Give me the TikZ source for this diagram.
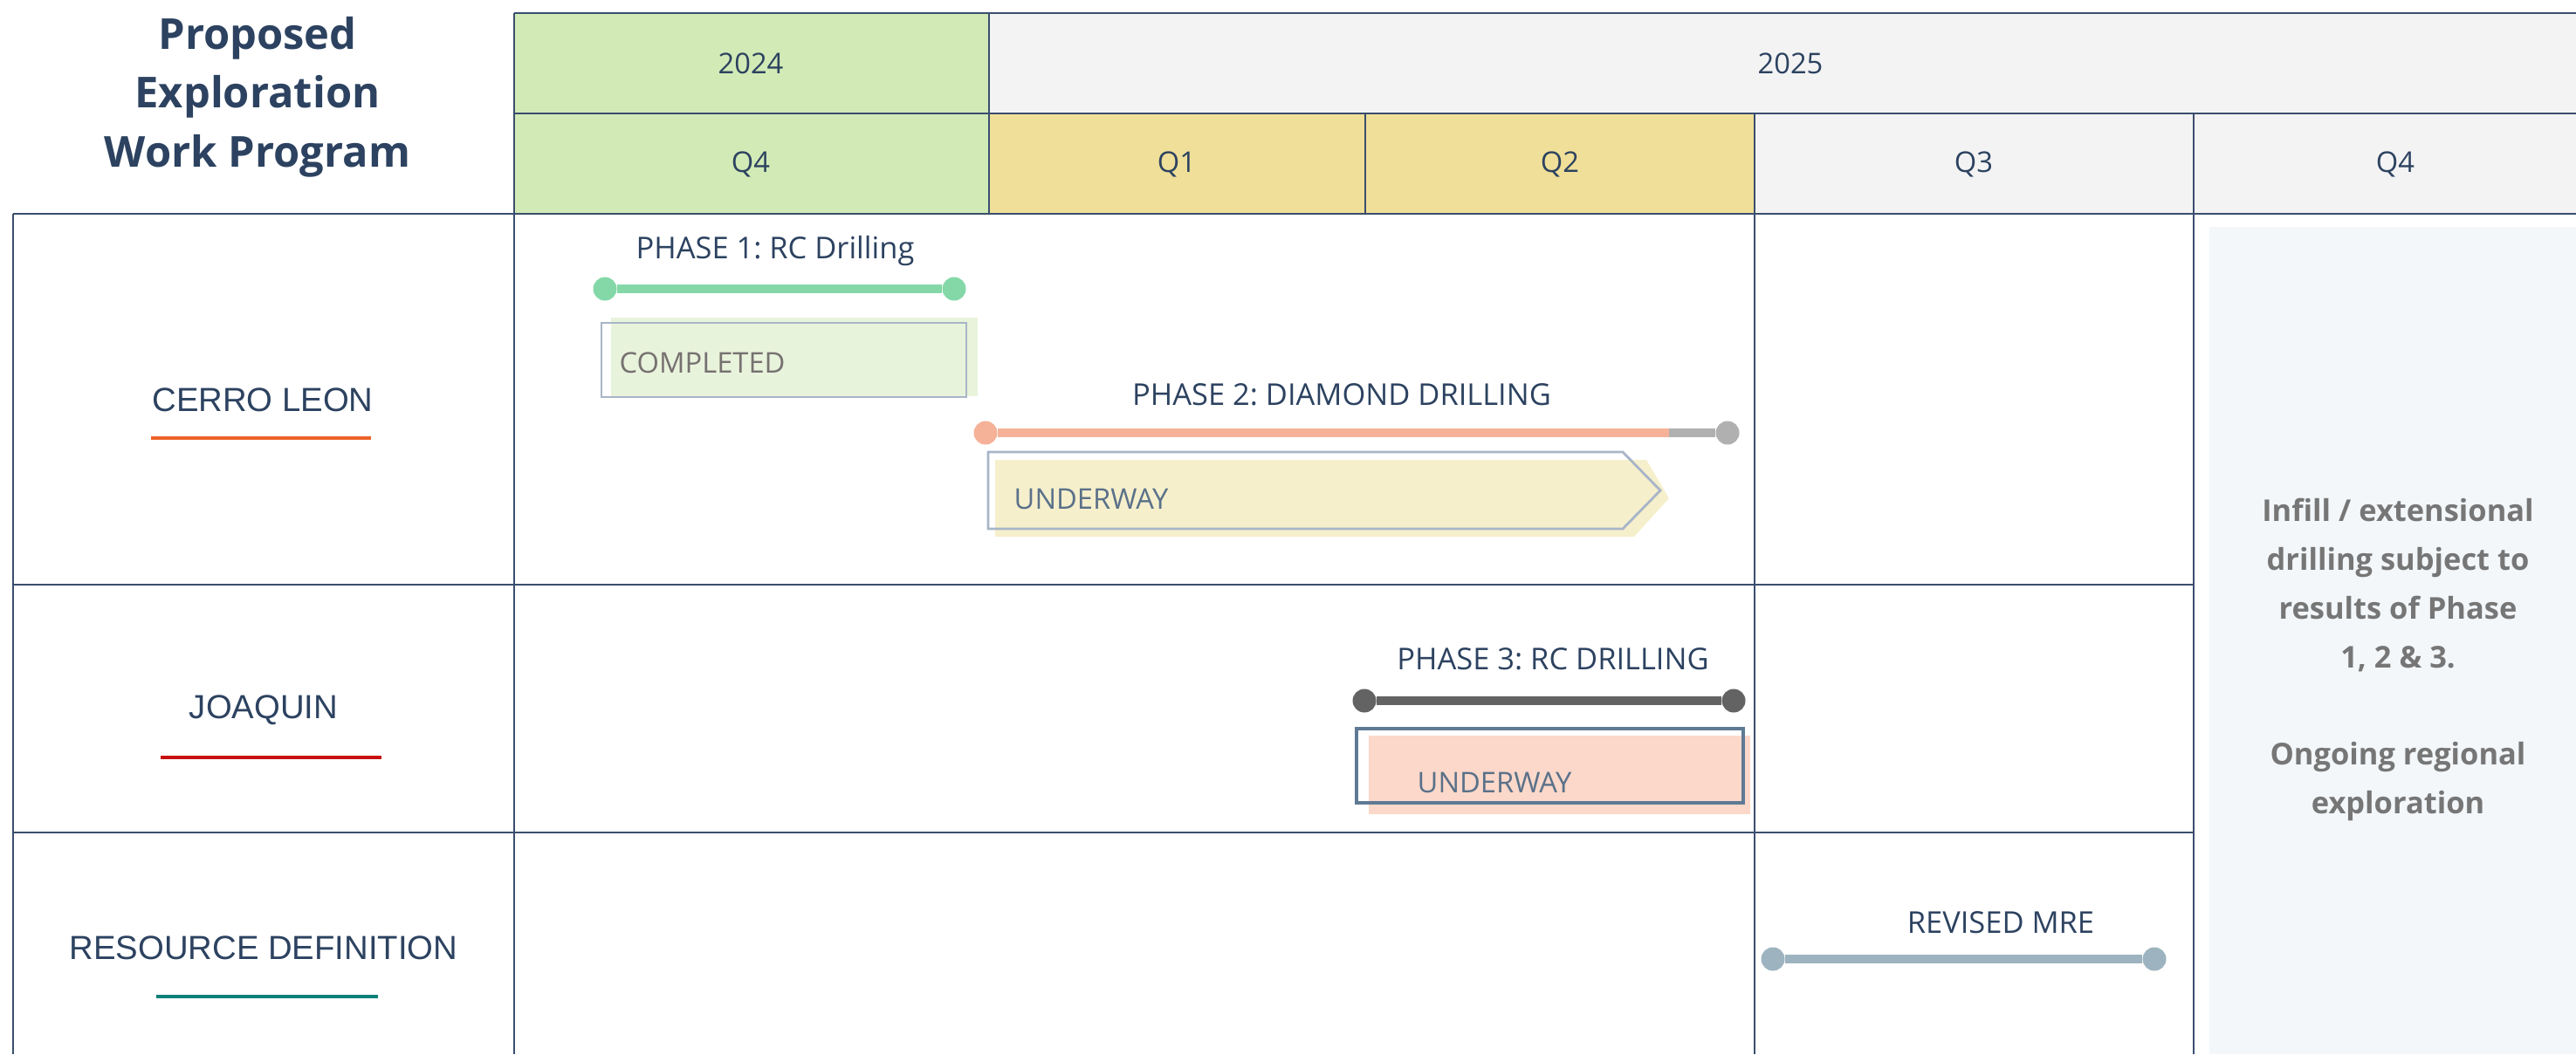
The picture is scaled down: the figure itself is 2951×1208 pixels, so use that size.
\documentclass[tikz,border=0pt]{standalone}
\usepackage{fontspec}
\setmainfont{Open Sans}
\newfontfamily\arialike{Liberation Sans}
\usetikzlibrary{positioning}
\frenchspacing

\definecolor{navy1}{RGB}{44, 66, 96}
\definecolor{gridnavy}{RGB}{58, 78, 110}
\definecolor{hdrgreen}{RGB}{210, 234, 182}
\definecolor{hdryellow}{RGB}{240, 223, 152}
\definecolor{hdrgray}{RGB}{243, 243, 243}
\definecolor{panelblue}{RGB}{243, 247, 250}
\definecolor{panelgray}{RGB}{118, 118, 118}
\definecolor{leonorange}{RGB}{236, 98, 40}
\definecolor{joaqred}{RGB}{200, 16, 16}
\definecolor{resteal}{RGB}{14, 128, 122}
\definecolor{ph1green}{RGB}{132, 216, 168}
\definecolor{ph1fill}{RGB}{232, 243, 219}
\definecolor{ph2salmon}{RGB}{245, 178, 152}
\definecolor{ph2gray}{RGB}{176, 176, 176}
\definecolor{ph2fill}{RGB}{246, 239, 204}
\definecolor{ph3dark}{RGB}{99, 99, 99}
\definecolor{ph3fill}{RGB}{251, 216, 202}
\definecolor{mreblue}{RGB}{157, 180, 192}
\definecolor{boxline}{RGB}{168, 181, 200}
\definecolor{boxline3}{RGB}{94, 122, 148}
\definecolor{donegray}{RGB}{118, 113, 113}
\definecolor{waytext}{RGB}{90, 113, 137}

\tikzset{
  gridrule/.style={draw=gridnavy, line width=0.6pt},
  hdr/.style={font=\fontsize{9.3}{11}\selectfont, text=navy1},
  rowlbl/.style={font=\arialike\fontsize{10.9}{12}\selectfont, text=navy1},
  phaselbl/.style={font=\fontsize{9.8}{11}\selectfont, text=navy1},
  enddot/.style={circle, inner sep=0pt, minimum size=2.7mm},
  phasebar/.style={line width=2.6pt},
  uline/.style={line width=1pt},
  statustxt/.style={font=\fontsize{9.3}{10}\selectfont, anchor=west, inner sep=0pt},
}

\begin{document}
\begin{tikzpicture}[x=0.1mm, y=-0.1mm]
\useasboundingbox (0,0) rectangle (2951,1208);

% header cells
\fill[hdrgreen] (589,15) rectangle (1133,245);
\fill[hdrgray] (1133,15) rectangle (2951,130);
\fill[hdryellow] (1133,130) rectangle (2010,245);
\fill[hdrgray] (2010,130) rectangle (2951,245);

% Q4 2025 panel
\fill[panelblue] (2531,260) rectangle (2951,1208);

% table rules
\draw[gridrule] (589,15) -- (2951,15);
\draw[gridrule] (589,130) -- (2951,130);
\draw[gridrule] (15,245) -- (2951,245);
\draw[gridrule] (15,670) -- (2513,670);
\draw[gridrule] (15,954) -- (2513,954);
\draw[gridrule] (15,245) -- (15,1208);
\draw[gridrule] (589,15) -- (589,1208);
\draw[gridrule] (1133,15) -- (1133,245);
\draw[gridrule] (1564,130) -- (1564,245);
\draw[gridrule] (2010,130) -- (2010,1208);
\draw[gridrule] (2513,130) -- (2513,1208);

% title
\node[font=\fontsize{13.9}{19.2}\selectfont\bfseries, text=navy1, align=center] (title) at (295,111)
  {Proposed\\Exploration\\Work Program};

% header labels
\node[hdr] (y24) at (860,73) {2024};
\node[hdr] (y25) at (2051,73) {2025};
\node[hdr] (q4a) at (860,188) {Q4};
\node[hdr] (q1) at (1348,188) {Q1};
\node[hdr] (q2) at (1787,188) {Q2};
\node[hdr] (q3) at (2261,188) {Q3};
\node[hdr] (q4b) at (2744,188) {Q4};

% row labels
\node[rowlbl] (leon) at (301,458) {CERRO LEON};
\draw[uline, leonorange] (173,502) -- (425,502);
\node[rowlbl] (joaq) at (302,814) {JOAQUIN};
\draw[uline, joaqred] (184,868) -- (437,868);
\node[rowlbl] (resdef) at (302,1086) {RESOURCE DEFINITION};
\draw[uline, resteal] (179,1142) -- (433,1142);

% Phase 1
\node[phaselbl] (ph1) at (888,288) {PHASE 1: RC Drilling};
\node[enddot, fill=ph1green] (p1s) at (693,331) {};
\node[enddot, fill=ph1green] (p1e) at (1093,331) {};
\draw[phasebar, ph1green] (p1s) -- (p1e);
\fill[ph1fill] (700,364) rectangle (1120,454);
\draw[boxline, line width=0.8pt] (689,370) rectangle (1107,455);
\node[statustxt, text=donegray] (st1) at (709,416) {COMPLETED};

% Phase 2
\node[phaselbl] (ph2) at (1537,452) {PHASE 2: DIAMOND DRILLING};
\node[enddot, fill=ph2salmon] (p2s) at (1129,496) {};
\node[enddot, fill=ph2gray] (p2e) at (1979,496) {};
\coordinate (p2m) at (1912,496);
\draw[phasebar, ph2salmon] (p2s) -- (p2m);
\draw[phasebar, ph2gray] (p2m) -- (p2e);
\fill[ph2fill] (1140,527) -- (1886,527) -- (1912,571) -- (1872,615) -- (1140,615) -- cycle;
\draw[boxline, line width=0.8pt] (1132,518) -- (1859,518) -- (1902,562) -- (1859,606) -- (1132,606) -- cycle;
\node[statustxt, text=waytext] (st2) at (1161,572) {UNDERWAY};

% Phase 3
\node[phaselbl] (ph3) at (1779,755) {PHASE 3: RC DRILLING};
\node[enddot, fill=ph3dark] (p3s) at (1563,803) {};
\node[enddot, fill=ph3dark] (p3e) at (1986,803) {};
\draw[phasebar, ph3dark] (p3s) -- (p3e);
\fill[ph3fill] (1568,843) rectangle (2005,933);
\draw[boxline3, line width=0.9pt] (1554,835) rectangle (1997,920);
\node[statustxt, text=waytext] (st3) at (1623,897) {UNDERWAY};

% Revised MRE
\node[phaselbl] (mre) at (2292,1057) {REVISED MRE};
\node[enddot, fill=mreblue] (ms) at (2031,1099) {};
\node[enddot, fill=mreblue] (me) at (2468,1099) {};
\draw[phasebar, mreblue] (ms) -- (me);

% Q4 note
\node[font=\fontsize{9.8}{15.9}\selectfont\bfseries, text=panelgray, align=center] (note) at (2747,756)
  {Infill / extensional\\drilling subject to\\results of Phase\\1, 2 \& 3.\\[15.9pt]Ongoing regional\\exploration};

\end{tikzpicture}
\end{document}
